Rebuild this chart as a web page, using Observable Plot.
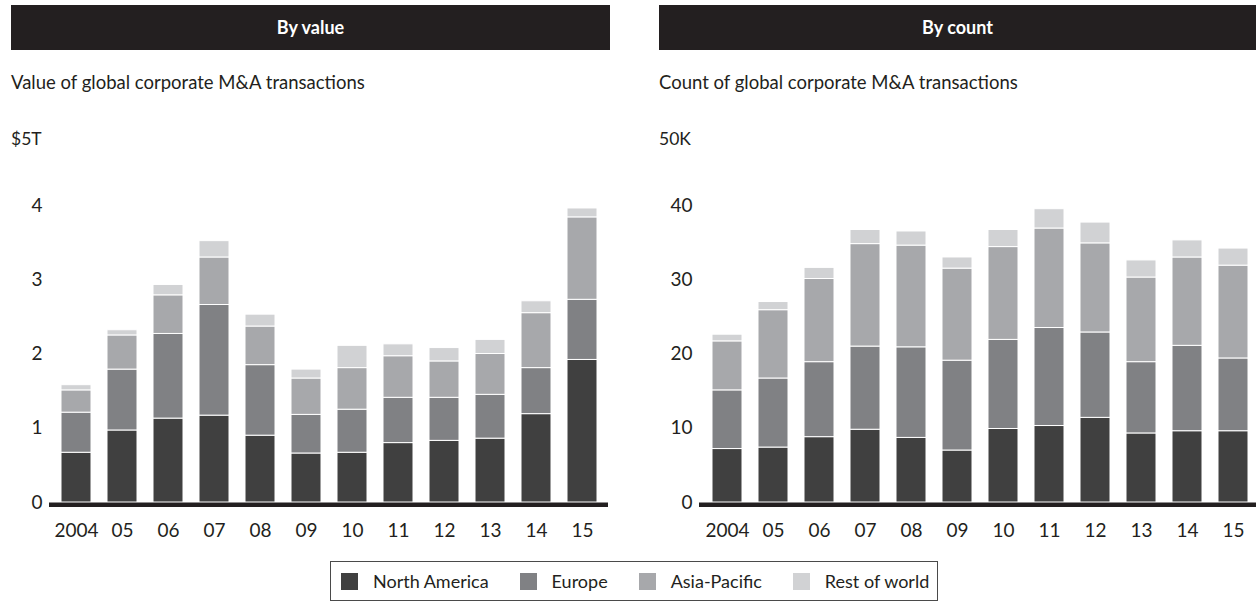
<!DOCTYPE html>
<html>
<head>
<meta charset="utf-8">
<script src="https://cdn.jsdelivr.net/npm/d3@7"></script>
<script src="https://cdn.jsdelivr.net/npm/@observablehq/plot@0.6"></script>
<style>
  html, body { margin: 0; padding: 0; background: #fff; overflow: hidden; }
  body { font-family: Lato, "Noto Sans", sans-serif; color: #231f20; }
  #wrap { position: relative; width: 1256px; height: 604px; overflow: hidden; }
  .hdr { position: absolute; top: 5px; height: 45px; line-height: 45px; background: #231f20; color: #fff;
         font-weight: 700; font-size: 18px; text-align: center; }
  .sub { position: absolute; top: 71px; font-size: 18.5px; white-space: nowrap; }
  .unit { position: absolute; top: 128px; font-size: 17.5px; }
  .chart { position: absolute; top: 100px; width: 628px; height: 450px; }
  .chart svg { max-width: none !important; }
  #legend { position: absolute; left: 330px; top: 561px; width: 608px; height: 40px; border: 1px solid #4a4a4a;
            display: flex; align-items: center; font-size: 18px; box-sizing: border-box; padding-left: 10px; white-space: nowrap; }
  .item { display: flex; align-items: center; margin-right: 31px; white-space: nowrap; }
  .sw { width: 17px; height: 17px; margin-right: 15px; flex: none; }
</style>
</head>
<body>
<div id="wrap">
  <div class="hdr" style="left:11px;width:599px;">By value</div>
  <div class="hdr" style="left:659px;width:597px;">By count</div>
  <div class="sub" style="left:11px;">Value of global corporate M&amp;A transactions</div>
  <div class="sub" style="left:659px;">Count of global corporate M&amp;A transactions</div>
  <div class="unit" style="left:11px;">$5T</div>
  <div class="unit" style="left:659px;">50K</div>
  <div class="chart" id="left" style="left:0px;"></div>
  <div class="chart" id="right" style="left:650px;"></div>
  <div id="legend"></div>
</div>
<script>
// Categories
const years = [2004, 2005, 2006, 2007, 2008, 2009, 2010, 2011, 2012, 2013, 2014, 2015];
const yearLabels = ["2004", "05", "06", "07", "08", "09", "10", "11", "12", "13", "14", "15"];
const regions = ["North America", "Europe", "Asia-Pacific", "Rest of world"];
const regionColors = ["#404040", "#808184", "#a7a8ab", "#d1d2d4"];

// Value of global corporate M&A transactions ($T)
const valueNorthAmerica = [0.67, 0.97, 1.13, 1.17, 0.90, 0.66, 0.67, 0.80, 0.83, 0.86, 1.19, 1.92];
const valueEurope       = [0.54, 0.82, 1.14, 1.49, 0.95, 0.52, 0.58, 0.61, 0.58, 0.59, 0.62, 0.81];
const valueAsiaPacific  = [0.30, 0.46, 0.52, 0.64, 0.52, 0.49, 0.56, 0.56, 0.49, 0.55, 0.74, 1.11];
const valueRestOfWorld  = [0.07, 0.07, 0.14, 0.22, 0.16, 0.12, 0.30, 0.16, 0.18, 0.19, 0.16, 0.12];

// Count of global corporate M&A transactions (K)
const countNorthAmerica = [7.2, 7.4, 8.8, 9.8, 8.7, 7.0, 9.9, 10.3, 11.4, 9.3, 9.6, 9.6];
const countEurope       = [7.9, 9.3, 10.1, 11.2, 12.2, 12.1, 12.0, 13.2, 11.5, 9.6, 11.5, 9.8];
const countAsiaPacific  = [6.6, 9.2, 11.2, 13.8, 13.7, 12.4, 12.5, 13.4, 12.0, 11.4, 11.9, 12.5];
const countRestOfWorld  = [0.9, 1.1, 1.5, 1.9, 1.9, 1.5, 2.3, 2.6, 2.8, 2.3, 2.3, 2.3];

// Axis ticks
const valueTicks = [0, 1, 2, 3, 4];
const countTicks = [0, 10, 20, 30, 40];

function tidy(series) {
  const rows = [];
  years.forEach((y, i) => {
    regions.forEach((r, j) => rows.push({year: y, region: r, v: series[j][i]}));
  });
  return rows;
}

const valueData = tidy([valueNorthAmerica, valueEurope, valueAsiaPacific, valueRestOfWorld]);
const countData = tidy([countNorthAmerica, countEurope, countAsiaPacific, countRestOfWorld]);

function chart(data, yMax, ticks, marginRight) {
  return Plot.plot({
    width: 628,
    height: 450,
    marginLeft: 49,
    marginRight,
    marginTop: 30.75,
    marginBottom: 48,
    style: { fontFamily: "Lato, 'Noto Sans', sans-serif", fontSize: "19px", color: "#231f20", background: "transparent", overflow: "visible", maxWidth: "none" },
    x: { domain: years, type: "band", paddingInner: 0.352, paddingOuter: 0.215, tickSize: 0, tickPadding: 21,
         tickFormat: d => yearLabels[years.indexOf(d)], label: null },
    y: { domain: [0, yMax], ticks, tickSize: 0, tickPadding: 7, tickFormat: d => String(d), label: null },
    color: { domain: regions, range: regionColors },
    marks: [
      Plot.barY(data, { x: "year", y: "v", fill: "region", z: "region", order: regions, stroke: "white", strokeWidth: 1 }),
      Plot.ruleY([0], { stroke: "#231f20", strokeWidth: 4.5, dy: 2.3 })
    ]
  });
}

document.getElementById("left").appendChild(chart(valueData, 5, valueTicks, 20));
document.getElementById("right").appendChild(chart(countData, 50, countTicks, 17.5));

const legend = document.getElementById("legend");
regions.forEach((r, i) => {
  const item = document.createElement("div");
  item.className = "item";
  const sw = document.createElement("div");
  sw.className = "sw";
  sw.style.background = regionColors[i];
  const t = document.createElement("span");
  t.textContent = r;
  item.appendChild(sw);
  item.appendChild(t);
  legend.appendChild(item);
});
</script>
</body>
</html>
